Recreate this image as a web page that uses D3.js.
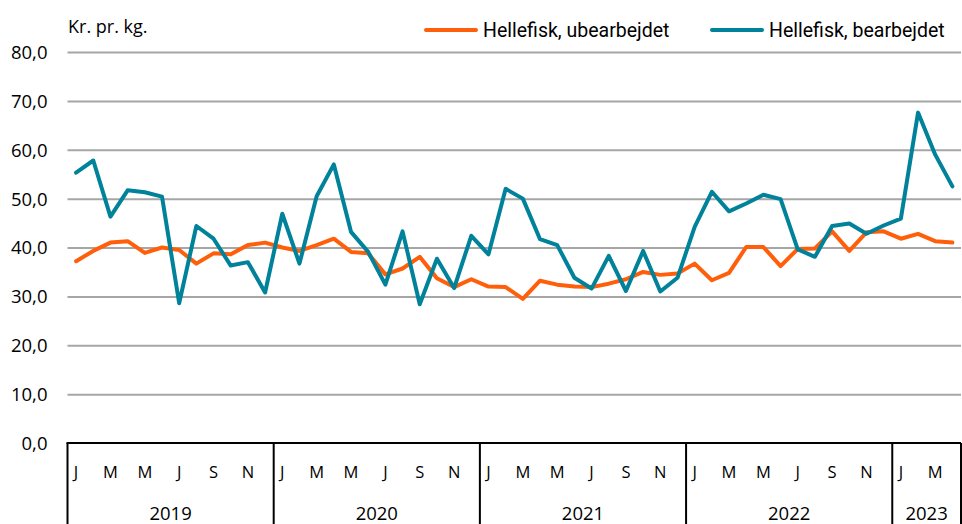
<!DOCTYPE html>
<html>
<head>
<meta charset="utf-8">
<script src="https://cdn.jsdelivr.net/npm/d3@7"></script>
<style>
  body { margin: 0; background: #fff; }
  svg { display: block; font-family: "Open Sans", sans-serif; }
</style>
</head>
<body>
<svg id="chart" width="962" height="524"></svg>
<script>
// Jan 2019 - Apr 2023, monthly
const years = [2019, 2020, 2021, 2022, 2023];
const monthsPerYear = [12, 12, 12, 12, 4];
const monthLetters = ["J", "F", "M", "A", "M", "J", "J", "A", "S", "O", "N", "D"];
const yTicks = [0, 10, 20, 30, 40, 50, 60, 70, 80];

const ubearbejdet = [
  37.2, 39.3, 41.0, 41.3, 38.9, 40.0, 39.5, 36.7, 38.8, 38.6, 40.5, 41.0,
  40.0, 39.3, 40.5, 41.8, 39.1, 38.8, 34.5, 35.7, 38.1, 33.7, 31.9, 33.5,
  32.0, 31.9, 29.5, 33.2, 32.4, 32.0, 31.9, 32.6, 33.5, 35.0, 34.4, 34.7,
  36.7, 33.3, 34.8, 40.1, 40.1, 36.2, 39.7, 39.8, 43.3, 39.3, 43.1, 43.3,
  41.8, 42.8, 41.3, 41.0
];
const bearbejdet = [
  55.3, 57.8, 46.3, 51.7, 51.3, 50.4, 28.6, 44.4, 41.8, 36.3, 37.0, 30.8,
  46.9, 36.7, 50.5, 57.0, 43.2, 39.1, 32.4, 43.3, 28.4, 37.7, 31.7, 42.4,
  38.6, 52.0, 50.0, 41.7, 40.5, 33.8, 31.6, 38.3, 31.1, 39.3, 31.0, 33.8,
  44.2, 51.4, 47.4, 49.0, 50.8, 49.9, 39.6, 38.1, 44.4, 44.9, 42.8, 44.5,
  45.9, 67.6, 59.0, 52.5
];

const seriesList = [
  { name: "Hellefisk, ubearbejdet", values: ubearbejdet, color: "#ff5f0a" },
  { name: "Hellefisk, bearbejdet", values: bearbejdet, color: "#00829a" }
];

const svg = d3.select("#chart");
const plotL = 67.5, plotR = 961, plotT = 52, plotB = 443, svgH = 524;
const nMonths = d3.sum(monthsPerYear);

const x = d3.scaleLinear().domain([-0.5, nMonths - 0.5]).range([plotL, plotR]);
const y = d3.scaleLinear().domain([0, 80]).range([plotB, plotT]);

// gridlines + y labels
const yAxis = svg.append("g")
  .attr("transform", "translate(" + plotL + ",0)")
  .call(d3.axisLeft(y).tickValues(yTicks).tickSize(0).tickPadding(20)
    .tickFormat(d => d3.format(".1f")(d).replace(".", ",")));
yAxis.select(".domain").remove();
yAxis.selectAll("text").attr("font-size", "18.5px").attr("fill", "#000")
  .attr("font-family", "Open Sans").attr("dy", "0.35em");
yAxis.selectAll(".tick").filter(d => d > 0).append("line")
  .attr("x2", plotR - plotL).attr("stroke", "#a6a6a6").attr("stroke-width", 2);

// x axis: baseline + year separators
svg.append("line")
  .attr("x1", plotL - 1).attr("x2", plotR)
  .attr("y1", y(0)).attr("y2", y(0))
  .attr("stroke", "#000").attr("stroke-width", 2);

let start = 0;
const yearInfo = years.map((yr, i) => {
  const o = { year: yr, start: start, n: monthsPerYear[i] };
  start += monthsPerYear[i];
  return o;
});
const bounds = yearInfo.map(d => d.start).concat([nMonths]);
svg.selectAll(".sep").data(bounds).enter().append("line")
  .attr("class", "sep")
  .attr("x1", d => x(d - 0.5)).attr("x2", d => x(d - 0.5))
  .attr("y1", y(0)).attr("y2", svgH)
  .attr("stroke", "#000").attr("stroke-width", 2);

const monthIdx = d3.range(nMonths).filter(i => {
  const yi = yearInfo.find(d => i >= d.start && i < d.start + d.n);
  return (i - yi.start) % 2 === 0;
});
svg.selectAll(".mlab").data(monthIdx).enter().append("text")
  .attr("class", "mlab")
  .attr("x", d => x(d)).attr("y", 478)
  .attr("text-anchor", "middle").attr("font-size", "16.5px")
  .text(d => {
    const yi = yearInfo.find(e => d >= e.start && d < e.start + e.n);
    return monthLetters[d - yi.start];
  });

svg.selectAll(".ylab").data(yearInfo).enter().append("text")
  .attr("class", "ylab")
  .attr("x", d => x(d.start + (d.n - 1) / 2)).attr("y", 520)
  .attr("text-anchor", "middle").attr("font-size", "18.5px")
  .text(d => d.year);

// unit label
svg.append("text").attr("x", 68).attr("y", 33)
  .attr("font-size", "18px").text("Kr. pr. kg.");

// lines
const line = d3.line().x((d, i) => x(i)).y(d => y(d));
svg.selectAll(".series").data(seriesList).enter().append("path")
  .attr("class", "series")
  .attr("d", d => line(d.values))
  .attr("fill", "none")
  .attr("stroke", d => d.color)
  .attr("stroke-width", 4)
  .attr("stroke-linejoin", "round")
  .attr("stroke-linecap", "round");

// legend
const legendX = [426, 712];
const legend = svg.selectAll(".leg").data(seriesList).enter().append("g")
  .attr("class", "leg")
  .attr("transform", (d, i) => "translate(" + legendX[i] + ",30)");
legend.append("line").attr("x1", 0).attr("x2", 50)
  .attr("stroke", d => d.color).attr("stroke-width", 4).attr("stroke-linecap", "round");
legend.append("text").attr("x", 57).attr("y", 7)
  .attr("font-family", "Roboto").attr("font-size", "19.5px").text(d => d.name);
</script>
</body>
</html>
